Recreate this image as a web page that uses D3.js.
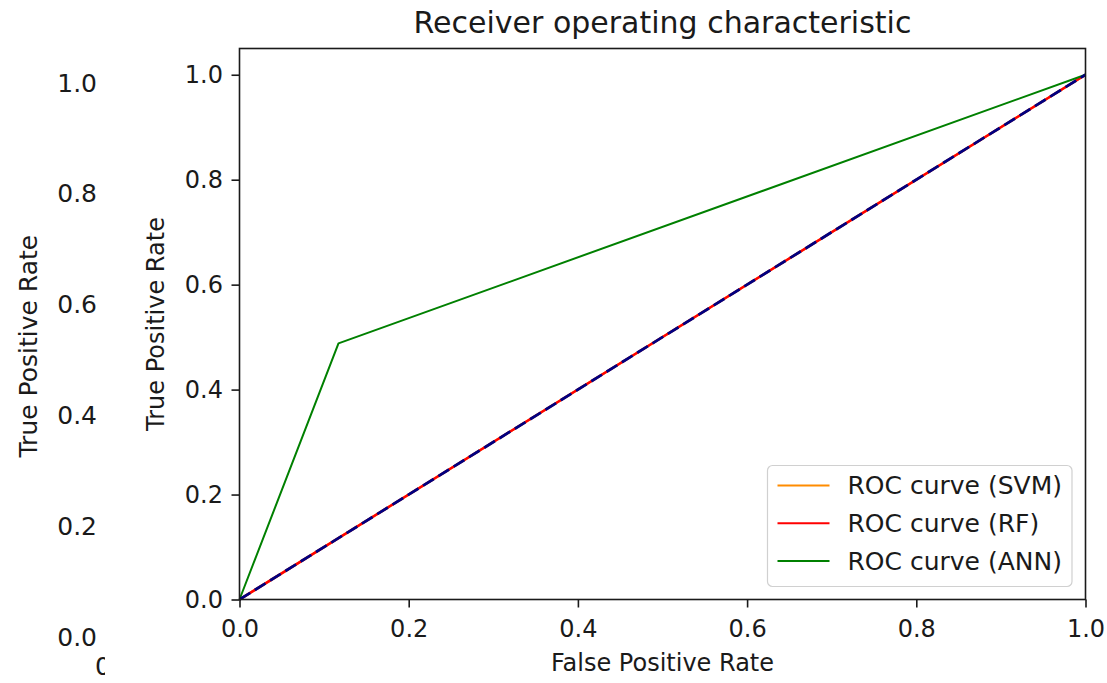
<!DOCTYPE html>
<html>
<head>
<meta charset="utf-8">
<script src="https://cdn.jsdelivr.net/npm/d3@7"></script>
<style>
  body { margin: 0; background: #fff; }
  text { font-family: "DejaVu Sans", sans-serif; fill: #1a1a1a; }
  .axis path, .axis line { stroke: #1a1a1a; stroke-width: 1.6; }
</style>
</head>
<body>
<div id="roc"></div>
<script>

// Data
var tickValues = [0, 0.2, 0.4, 0.6, 0.8, 1.0];
var svmFpr = [0, 1], svmTpr = [0, 1];
var rfFpr = [0, 1], rfTpr = [0, 1];
var annFpr = [0, 0.117, 1], annTpr = [0, 0.488, 1];
var chanceFpr = [0, 1], chanceTpr = [0, 1];
var legendLabels = ["ROC curve (SVM)", "ROC curve (RF)", "ROC curve (ANN)"];
var legendColors = ["#ff8c00", "#ff0000", "#008000"];
var ghostTicks = [0, 0.2, 0.4, 0.6, 0.8, 1.0];

// Dimensions
var roc_margin = {top: 48.5, right: 21.5, bottom: 83.5, left: 239.5},
    roc_width = 1107 - roc_margin.left - roc_margin.right,
    roc_height = 683 - roc_margin.top - roc_margin.bottom;

var svgRoot = d3.select("#roc")
  .append("svg")
    .attr("width", 1107)
    .attr("height", 683);

svgRoot.append("rect").attr("width", 1107).attr("height", 683).attr("fill", "#fff");

// ghost of an older plot sticking out on the left
var ghostY = d3.scaleLinear().domain([0, 1]).range([637, 83]);
var ghost = svgRoot.append("g");
ghost.append("g")
    .attr("class", "axis")
    .attr("transform", "translate(97,0)")
    .call(d3.axisLeft(ghostY).tickValues(ghostTicks).tickSize(0).tickPadding(0)
      .tickFormat(d3.format(".1f")))
    .call(function(g) { g.select(".domain").remove(); })
    .selectAll("text")
      .style("font-size", "25px")
      .attr("dy", "0.32em");
ghost.append("text")
    .attr("transform", "translate(37," + ghostY(0.525) + ") rotate(-90)")
    .attr("text-anchor", "middle")
    .style("font-size", "25px")
    .text("True Positive Rate");
svgRoot.append("clipPath").attr("id", "ghostclip")
  .append("rect").attr("x", 0).attr("y", 0).attr("width", 105).attr("height", 683);
ghost.append("text")
    .attr("clip-path", "url(#ghostclip)")
    .attr("x", 115)
    .attr("y", 675)
    .attr("text-anchor", "middle")
    .style("font-size", "25px")
    .text("0.0");

var roc_svg = svgRoot.append("g")
    .attr("transform", "translate(" + roc_margin.left + "," + roc_margin.top + ")");

// scales
var x = d3.scaleLinear().domain([0, 1]).range([0, roc_width]);
var y = d3.scaleLinear().domain([0, 1.05]).range([roc_height, 0]);

var line = d3.line()
    .x(function(d) { return x(d[0]); })
    .y(function(d) { return y(d[1]); });

function pairs(a, b) { return a.map(function(v, i) { return [v, b[i]]; }); }

// curves
roc_svg.append("path")
    .datum(pairs(svmFpr, svmTpr))
    .attr("d", line)
    .attr("fill", "none")
    .attr("stroke", legendColors[0])
    .attr("stroke-width", 2.4);
roc_svg.append("path")
    .datum(pairs(rfFpr, rfTpr))
    .attr("d", line)
    .attr("fill", "none")
    .attr("stroke", legendColors[1])
    .attr("stroke-width", 2.4);
roc_svg.append("path")
    .datum(pairs(annFpr, annTpr))
    .attr("d", line)
    .attr("fill", "none")
    .attr("stroke", legendColors[2])
    .attr("stroke-width", 2)
    .attr("stroke-linejoin", "round");
roc_svg.append("path")
    .datum(pairs(chanceFpr, chanceTpr))
    .attr("d", line)
    .attr("fill", "none")
    .attr("stroke", "#000080")
    .attr("stroke-width", 2.8)
    .attr("stroke-dasharray", "12.6,5.4");

// frame
roc_svg.append("rect")
    .attr("width", roc_width)
    .attr("height", roc_height)
    .attr("fill", "none")
    .attr("stroke", "#1a1a1a")
    .attr("stroke-width", 1.6);

// axes
roc_svg.append("g")
    .attr("class", "axis")
    .call(d3.axisLeft(y).tickValues(tickValues).tickSize(8).tickPadding(8.5)
      .tickFormat(d3.format(".1f")))
    .call(function(g) { g.select(".domain").remove(); })
    .selectAll("text")
      .style("font-size", "24px");
roc_svg.append("g")
    .attr("class", "axis")
    .attr("transform", "translate(0," + roc_height + ")")
    .call(d3.axisBottom(x).tickValues(tickValues).tickSize(8).tickPadding(12.5)
      .tickFormat(d3.format(".1f")))
    .call(function(g) { g.select(".domain").remove(); })
    .selectAll("text")
      .style("font-size", "24px");

// labels
svgRoot.append("text")
    .attr("x", roc_margin.left + roc_width / 2)
    .attr("y", 33)
    .attr("text-anchor", "middle")
    .style("font-size", "30px")
    .text("Receiver operating characteristic");
svgRoot.append("text")
    .attr("x", roc_margin.left + roc_width / 2)
    .attr("y", 671)
    .attr("text-anchor", "middle")
    .style("font-size", "24px")
    .text("False Positive Rate");
svgRoot.append("text")
    .attr("transform", "translate(164," + (roc_margin.top + roc_height / 2) + ") rotate(-90)")
    .attr("text-anchor", "middle")
    .style("font-size", "24px")
    .text("True Positive Rate");

// legend
var legend = roc_svg.append("g")
    .attr("transform", "translate(" + (roc_width - 318) + "," + (roc_height - 134) + ")");
legend.append("rect")
    .attr("width", 304.5)
    .attr("height", 121)
    .attr("rx", 5)
    .attr("fill", "#fff")
    .attr("fill-opacity", 0.8)
    .attr("stroke", "#d0d0d0")
    .attr("stroke-width", 1.2);
var rows = legend.selectAll("g.row")
  .data(legendLabels)
  .enter()
    .append("g")
      .attr("class", "row")
      .attr("transform", function(d, i) { return "translate(0," + (20 + i * 37.8) + ")"; });
rows.append("line")
    .attr("x1", 10).attr("x2", 62)
    .attr("stroke", function(d, i) { return legendColors[i]; })
    .attr("stroke-width", 2);
rows.append("text")
    .attr("x", 80)
    .attr("dy", "0.35em")
    .style("font-size", "25px")
    .text(function(d) { return d; });

</script>
</body>
</html>
